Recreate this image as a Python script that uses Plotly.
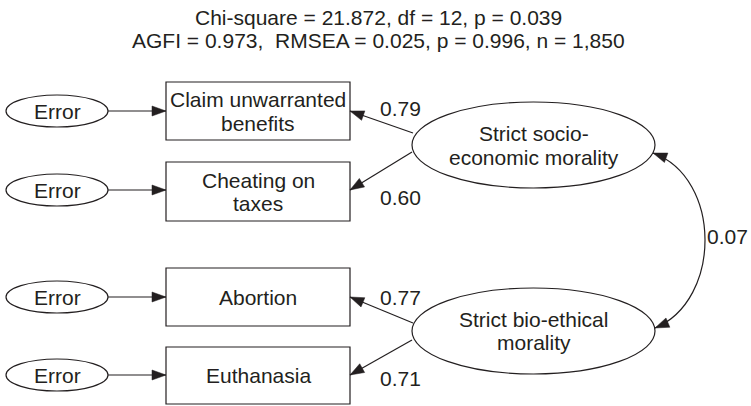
import math
import plotly.graph_objects as go

# ---------------- data ----------------
indicators = ["Claim unwarranted\nbenefits", "Cheating on\ntaxes", "Abortion", "Euthanasia"]
factors = ["Strict socio-\neconomic morality", "Strict bio-ethical\nmorality"]
indicator_factor = [0, 0, 1, 1]
loadings = [0.79, 0.60, 0.77, 0.71]
factor_correlation = 0.07
error_label = "Error"
chi_square, df, p_value = 21.872, 12, 0.039
agfi, rmsea, p_close, n_obs = 0.973, 0.025, 0.996, 1850

# ---------------- layout (diagram geometry) ----------------
W, H = 751, 406
FONT = "Liberation Sans, Arial, Helvetica, sans-serif"
FS = 21
INK = "#231f20"
LW = 1.2

err_x = (6, 108)
err_half_h = 16
box_x = (166, 350)
box_y = [(82, 140), (162, 221), (268, 326), (347, 404)]
lat_x = (412, 655)
lat_y = [(102, 188), (288, 374)]
load_start = [(413, 133), (412, 152), (413, 323), (412, 340)]
load_end_y = [111, 190, 297, 375]
coef_pos = [(400, 108), (400, 197), (400, 297), (400, 378)]
line_gap = [24, 23, 0, 0]
lat_line_gap = [24, 23]
curve = [(653, 153), (722, 178), (722, 300), (655, 328)]
corr_pos = (706, 236)
title_y = [17, 40]

shapes = []
annotations = []


def text(x, y, s, xanchor="center", size=FS):
    annotations.append(dict(x=x, y=y, xref="x", yref="y", text=s, showarrow=False,
                            xanchor=xanchor, yanchor="middle", borderpad=0,
                            font=dict(family=FONT, size=size, color=INK)))


def multiline(x, yc, s, gap):
    lines = s.split("\n")
    k = len(lines)
    for i, ln in enumerate(lines):
        text(x, yc + (i - (k - 1) / 2) * gap, ln)


def line(p0, p1):
    shapes.append(dict(type="line", xref="x", yref="y", x0=p0[0], y0=p0[1], x1=p1[0], y1=p1[1],
                       line=dict(color=INK, width=LW)))


def head(tip, frm, length=14, half=5):
    dx, dy = tip[0] - frm[0], tip[1] - frm[1]
    d = math.hypot(dx, dy)
    ux, uy = dx / d, dy / d
    bx, by = tip[0] - ux * length, tip[1] - uy * length
    px, py = -uy, ux
    path = (f"M{tip[0]},{tip[1]} L{bx + px * half},{by + py * half} "
            f"L{bx - px * half},{by - py * half} Z")
    shapes.append(dict(type="path", xref="x", yref="y", path=path,
                       fillcolor=INK, line=dict(color=INK, width=0.5)))


def arrow(p0, p1):
    line(p0, p1)
    head(p1, p0)


# title
text(W / 2 + 3, title_y[0], f"Chi-square = {chi_square:.3f}, df = {df}, p = {p_value:.3f}")
text(W / 2 + 3, title_y[1],
     f"AGFI = {agfi:.3f},\u00a0 RMSEA = {rmsea:.3f}, p = {p_close:.3f}, n = {n_obs:,}")

# observed indicators + errors
for i, lab in enumerate(indicators):
    y0, y1 = box_y[i]
    yc = (y0 + y1) / 2
    shapes.append(dict(type="rect", xref="x", yref="y", x0=box_x[0], x1=box_x[1], y0=y0, y1=y1,
                       line=dict(color=INK, width=LW), fillcolor="white"))
    multiline((box_x[0] + box_x[1]) / 2, yc, lab, line_gap[i])
    ey = load_end_y[i]
    shapes.append(dict(type="circle", xref="x", yref="y", x0=err_x[0], x1=err_x[1],
                       y0=ey - err_half_h, y1=ey + err_half_h,
                       line=dict(color=INK, width=LW), fillcolor="white"))
    text((err_x[0] + err_x[1]) / 2, ey, error_label)
    arrow((err_x[1], ey), (box_x[0], ey))
    # loading arrow
    arrow(load_start[i], (box_x[1], load_end_y[i]))
    text(coef_pos[i][0], coef_pos[i][1], f"{loadings[i]:.2f}")

# latent factors
for j, lab in enumerate(factors):
    y0, y1 = lat_y[j]
    shapes.append(dict(type="circle", xref="x", yref="y", x0=lat_x[0], x1=lat_x[1], y0=y0, y1=y1,
                       line=dict(color=INK, width=LW), fillcolor="white"))
    multiline((lat_x[0] + lat_x[1]) / 2, (y0 + y1) / 2, lab, lat_line_gap[j])

# correlation curve
p0, c1, c2, p3 = curve
shapes.append(dict(type="path", xref="x", yref="y",
                   path=f"M{p0[0]},{p0[1]} C{c1[0]},{c1[1]} {c2[0]},{c2[1]} {p3[0]},{p3[1]}",
                   line=dict(color=INK, width=LW)))
head(p0, c1)
head(p3, c2)
text(corr_pos[0], corr_pos[1], f"{factor_correlation:.2f}", xanchor="left")

fig = go.Figure()
fig.update_layout(
    width=W, height=H, margin=dict(l=0, r=0, t=0, b=0),
    paper_bgcolor="white", plot_bgcolor="white",
    xaxis=dict(range=[0, W], visible=False, fixedrange=True),
    yaxis=dict(range=[H, 0], visible=False, fixedrange=True),
    shapes=shapes, annotations=annotations, showlegend=False,
)
fig.write_html("out.html", config={"displayModeBar": False},
               post_script="document.body.style.margin='0px';document.body.style.overflow='hidden';")
